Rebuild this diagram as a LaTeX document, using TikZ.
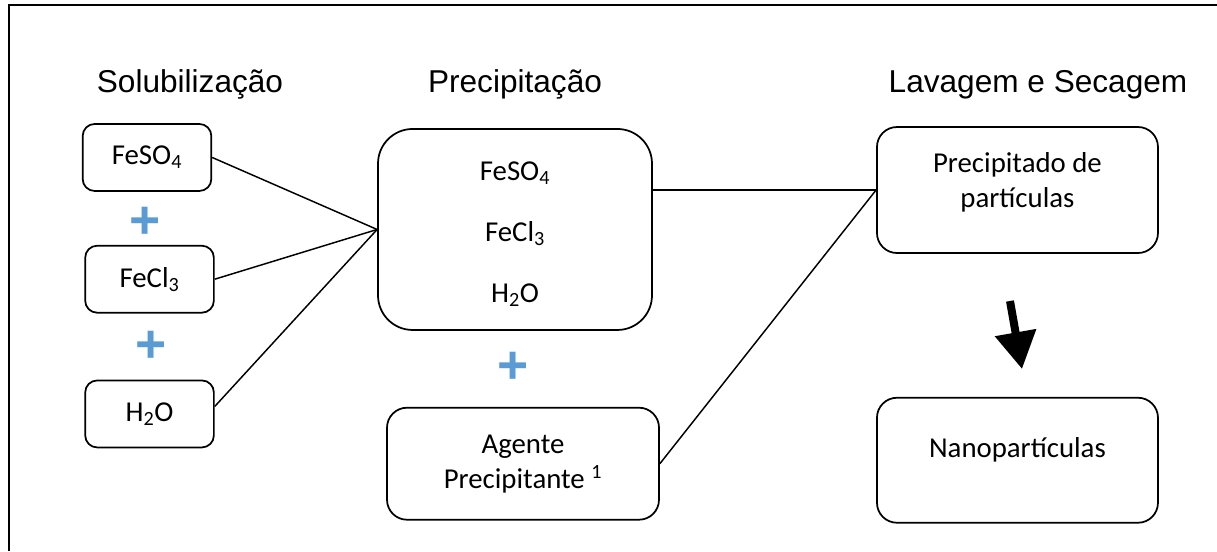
\documentclass[tikz,border=0pt]{standalone}
\usepackage{fontspec}
\setmainfont{Carlito}
\newfontfamily\headfont{Liberation Sans}
\usetikzlibrary{positioning, arrows.meta}
\definecolor{plusblue}{RGB}{91,155,213}
\tikzset {
    box/.style={draw, line width=1.3pt, align=center,
        font=\fontsize{21.6}{26.25}\selectfont},
    reagent/.style={box, rounded corners=9pt, minimum width=96.5pt, minimum height=50.25pt},
    stage/.style={box, rounded corners=15pt, minimum width=210.75pt, minimum height=94.5pt},
    title/.style={anchor=base, font=\headfont\fontsize{23.7}{28}\selectfont},
    plus/.style={text=plusblue, font=\headfont\bfseries\fontsize{40}{40}\selectfont},
    link/.style={line width=1.1pt},
    frame/.style={line width=1.7pt}
}

\begin{document}
\begin{tikzpicture}
    \useasboundingbox (0,0) rectangle (912.75pt,-413.25pt);
    \draw[frame] (6.75pt,-413.25pt) |- (912.75pt,-3.75pt);

    % titles
    \node[title] (t1) at (142.5pt,-69pt) {Solubilização};
    \node[title] (t2) at (386.25pt,-69pt) {Precipitação};
    \node[title] (t3) at (778.5pt,-69pt) {Lavagem e Secagem};

    % solubilizacao
    \node[reagent] (feso) at (110.25pt,-118.1pt) {FeSO\textsubscript{4}};
    \node[reagent, below=39.75pt of feso, xshift=1.9pt] (fecl) {FeCl\textsubscript{3}};
    \node[reagent, below=49.5pt of fecl] (h2o) {H\textsubscript{2}O};
    \node[plus] (p1) at (108.75pt,-167pt) {+};
    \node[plus] (p2) at (113.25pt,-260.5pt) {+};

    % precipitacao
    \node[box, rounded corners=26pt, minimum width=205.5pt, minimum height=150.75pt]
        (mix) at (386.25pt,-172.1pt) {\rule{0pt}{21pt}FeSO\textsubscript{4}\\[19.5pt]FeCl\textsubscript{3}\\[19.5pt]H\textsubscript{2}O};
    \node[box, rounded corners=15pt, minimum width=204pt, minimum height=84pt,
        below=57pt of mix, xshift=6pt] (agente) {Agente\\Precipitante \textsuperscript{1}};
    \node[plus] (p3) at (385.1pt,-276pt) {+};

    % lavagem e secagem
    \node[stage, text depth=15pt] (prec) at (763.1pt,-142.5pt) {Precipitado de\\partículas};
    \node[stage, minimum height=93.75pt, text depth=19pt, below=107.25pt of prec] (nano) {Nanopartículas};
    \coordinate (tail) at (757.5pt,-225.75pt);
    \coordinate (tip) at (766.5pt,-276.75pt);

    \draw[link] (feso.east) -- (mix.west);
    \draw[link] (fecl.east) -- (mix.west);
    \draw[link] ([yshift=5.6pt]h2o.east) -- (mix.west);
    \draw[link] (mix.east |- prec.west) -- (prec.west);
    \draw[link] (agente.east) -- (prec.west);
    \draw[line width=6pt, -{Triangle[width=30pt, length=27.75pt]}] (tail) -- (tip);
\end{tikzpicture}
\end{document}
